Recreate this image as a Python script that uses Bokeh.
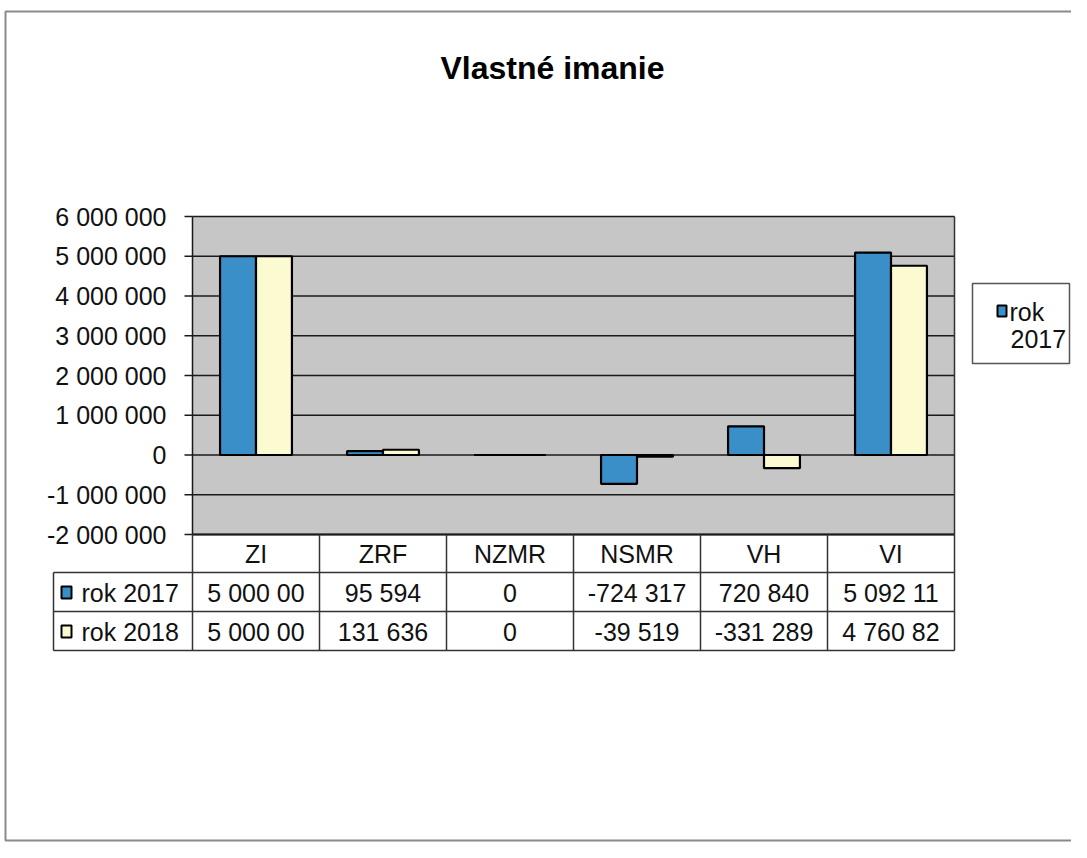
from bokeh.plotting import figure
from bokeh.models import Range1d
from bokeh.core.properties import value
from bokeh.embed import file_html
from bokeh.resources import INLINE

# ---------------- data ----------------
title = "Vlastné imanie"
categories = ["ZI", "ZRF", "NZMR", "NSMR", "VH", "VI"]
series_names = ["rok 2017", "rok 2018"]
rok_2017 = [5000000, 95594, 0, -724317, 720840, 5092117]
rok_2018 = [5000000, 131636, 0, -39519, -331289, 4760828]
y_ticks = [-2000000, -1000000, 0, 1000000, 2000000, 3000000, 4000000, 5000000, 6000000]
colors = ["#3a8fc9", "#fbfad0"]

# ---------------- layout (pixels) ----------------
W, H = 1071, 842
OFF = 0
PL, PR, PT, PB = 192, 954, 216, 534        # plot area
Y_MIN, Y_MAX = -2000000, 6000000
n = len(categories)
cw = (PR - PL) / n                          # category width in px
ppv = (PB - PT) / (Y_MAX - Y_MIN)           # px per value unit

x_lo = (OFF - PL) / cw
x_hi = (OFF + W - PL) / cw
y_hi = Y_MAX + (PT - OFF) / ppv
y_lo = Y_MIN - (OFF + H - PB) / ppv

FONT = value("Liberation Sans")

def fmt(v):
    s = f"{abs(int(v)):,}".replace(",", " ")
    return ("-" if v < 0 else "") + s

p = figure(width=W, height=H, output_backend="svg", toolbar_location=None,
           x_range=Range1d(x_lo, x_hi), y_range=Range1d(y_lo, y_hi),
           min_border=0, outline_line_color=None)
p.xaxis.visible = False
p.yaxis.visible = False
p.grid.visible = False
p.extra_x_ranges = {"px": Range1d(OFF, OFF + W)}
p.extra_y_ranges = {"px": Range1d(OFF + H, OFF)}
p.background_fill_color = "white"
p.border_fill_color = "white"

# outer page frame
p.quad(left=[5], right=[W + 4], top=[11], bottom=[H - 2], fill_color=None,
       line_color="#8a8a8a", line_width=2, x_range_name="px", y_range_name="px")

# title
p.text(x=[552], y=[67], text=[title], x_range_name="px", y_range_name="px",
       text_font=FONT, text_font_style="bold", text_font_size="32px",
       text_align="center", text_baseline="middle", text_color="black")

# plot area background
p.quad(left=[0], right=[n], bottom=[Y_MIN], top=[Y_MAX], fill_color="#c6c6c6",
       line_color=None)

# gridlines
p.segment(x0=[0] * len(y_ticks), x1=[n] * len(y_ticks), y0=y_ticks, y1=y_ticks,
          line_color="#1a1a1a", line_width=1.5)
# right border
p.segment(x0=[n], x1=[n], y0=[Y_MIN], y1=[Y_MAX], line_color="#333333", line_width=1.5)

# bars
bw = 0.283
xs = [i + 0.5 for i in range(n)]
p.vbar(x=[x - bw / 2 for x in xs], width=bw, top=rok_2017, bottom=0,
       fill_color=colors[0], line_color="black", line_width=2.2)
p.vbar(x=[x + bw / 2 for x in xs], width=bw, top=rok_2018, bottom=0,
       fill_color=colors[1], line_color="black", line_width=2.2)

# y axis line, tick marks, labels
p.segment(x0=[PL], x1=[PL], y0=[Y_MIN], y1=[Y_MAX], x_range_name="px",
          line_color="#1a1a1a", line_width=1.5)
p.segment(x0=[PL - 8] * len(y_ticks), x1=[PL] * len(y_ticks), y0=y_ticks, y1=y_ticks,
          x_range_name="px", line_color="#1a1a1a", line_width=1.5)
p.text(x=[PL - 26] * len(y_ticks), y=y_ticks, text=[fmt(t) for t in y_ticks],
       x_range_name="px", text_font=FONT, text_font_size="25px",
       text_align="right", text_baseline="middle", text_color="#111111")

# data table
TL = 53
rows_y = [PB, 572, 611, 650]
p.segment(x0=[TL, TL, TL], x1=[PR, PR, PR], y0=rows_y[1:], y1=rows_y[1:],
          x_range_name="px", y_range_name="px", line_color="#333333", line_width=1.5)
p.segment(x0=[PL], x1=[PR], y0=[PB], y1=[PB], x_range_name="px", y_range_name="px",
          line_color="#1a1a1a", line_width=2)
p.segment(x0=list(range(n + 1)), x1=list(range(n + 1)), y0=[rows_y[0]] * (n + 1),
          y1=[rows_y[3]] * (n + 1), y_range_name="px", line_color="#333333", line_width=1.5)
p.segment(x0=[TL], x1=[TL], y0=[rows_y[1]], y1=[rows_y[3]], x_range_name="px",
          y_range_name="px", line_color="#333333", line_width=1.5)

# header labels
p.text(x=xs, y=[553] * n, text=categories, y_range_name="px", text_font=FONT,
       text_font_size="25px", text_align="center", text_baseline="middle",
       text_color="#111111")
# values (cells are narrow: long numbers are cut off as in the original)
for vals, yc in ((rok_2017, 592), (rok_2018, 631)):
    p.text(x=xs, y=[yc] * n, text=[fmt(v)[:8] for v in vals], y_range_name="px",
           text_font=FONT, text_font_size="25px", text_align="center",
           text_baseline="middle", text_color="#111111")

# row labels with swatches
for name, col, yc in ((series_names[0], colors[0], 592), (series_names[1], colors[1], 631)):
    p.quad(left=[61], right=[71], top=[yc - 6], bottom=[yc + 6], fill_color=col,
           line_color="black", line_width=2, x_range_name="px", y_range_name="px")
    p.text(x=[81], y=[yc], text=[name], x_range_name="px", y_range_name="px",
           text_font=FONT, text_font_size="25px", text_align="left",
           text_baseline="middle", text_color="#111111")

# legend (only the first entry is visible, wrapped)
p.quad(left=[972], right=[W - 2], top=[283], bottom=[363], fill_color="white",
       line_color="#555555", line_width=1.5, x_range_name="px", y_range_name="px")
p.quad(left=[997], right=[1006], top=[305], bottom=[316], fill_color=colors[0],
       line_color="black", line_width=2, x_range_name="px", y_range_name="px")
leg = series_names[0].split(" ")
p.text(x=[1009, 1010], y=[311, 338], text=leg, x_range_name="px", y_range_name="px",
       text_font=FONT, text_font_size="25px", text_align="left",
       text_baseline="middle", text_color="#111111")

open("out.html", "w").write(file_html(p, INLINE))
